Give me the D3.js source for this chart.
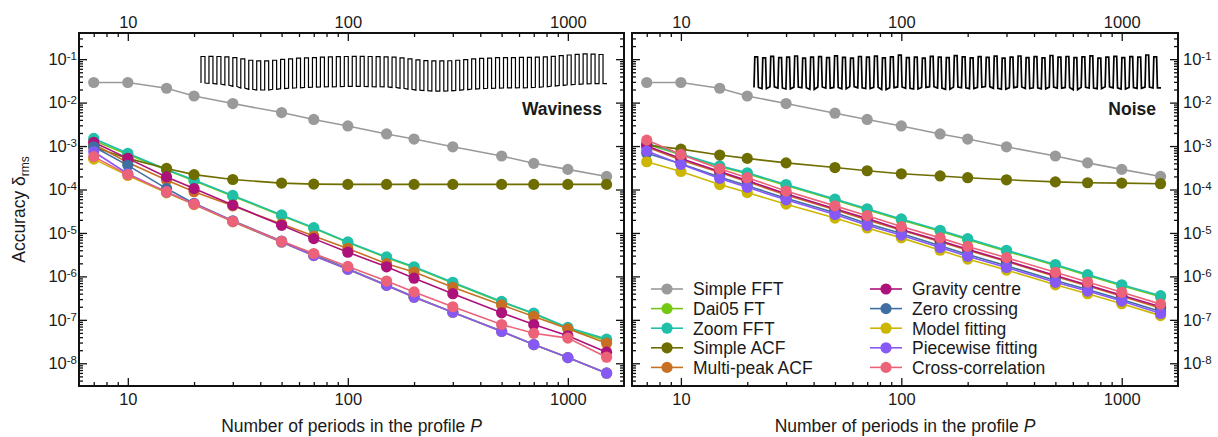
<!DOCTYPE html>
<html>
<head>
<meta charset="utf-8">
<script src="https://cdn.jsdelivr.net/npm/d3@7"></script>
<style>
body { margin: 0; background: #fff; }
svg text { font-family: "Liberation Sans", Arial, sans-serif; fill: #1a1a1a; }
</style>
</head>
<body>
<div id="vis"></div>
<script>
// number of periods in the profile
var periods = [7, 10, 15, 20, 30, 50, 70, 100, 150, 200, 300, 500, 700, 1000, 1500];

var methods = ["Simple FFT", "Dai05 FT", "Zoom FFT", "Simple ACF", "Multi-peak ACF",
    "Gravity centre", "Zero crossing", "Model fitting", "Piecewise fitting", "Cross-correlation"];
var colors = ["#9a9a9a", "#74c814", "#1fbfa8", "#6e6d00", "#c76f22",
    "#ad117a", "#3f6fa2", "#cdb600", "#8659f7", "#ec6279"];

// waviness panel
var wSimpleFFT = [0.029, 0.029, 0.0214, 0.0142, 0.0095, 0.0059, 0.0041, 0.0029, 0.0019, 0.00145, 0.00096, 0.00059, 0.0004, 0.00029, 0.0002];
var wDai05 = [1.35e-3, 6.4e-4, 2.8e-4, 1.6e-4, 7.0e-5, 2.5e-5, 1.28e-5, 6.0e-6, 2.7e-6, 1.6e-6, 7.0e-7, 2.55e-7, 1.38e-7, 6.4e-8, 3.3e-8];
var wZoomFFT = [1.5e-3, 6.8e-4, 2.9e-4, 1.66e-4, 7.3e-5, 2.6e-5, 1.32e-5, 6.2e-6, 2.8e-6, 1.66e-6, 7.3e-7, 2.65e-7, 1.42e-7, 6.7e-8, 3.6e-8];
var wSimpleACF = [9.5e-4, 5.2e-4, 3.05e-4, 2.2e-4, 1.7e-4, 1.4e-4, 1.33e-4, 1.31e-4, 1.31e-4, 1.31e-4, 1.31e-4, 1.31e-4, 1.31e-4, 1.31e-4, 1.31e-4];
var wMultiACF = [1.1e-3, 4.2e-4, 1.66e-4, 8.9e-5, 4.2e-5, 1.6e-5, 8.5e-6, 4.4e-6, 1.96e-6, 1.26e-6, 5.6e-7, 2.2e-7, 1.2e-7, 6.2e-8, 2.9e-8];
var wGravity = [1.22e-3, 5.2e-4, 1.95e-4, 1.05e-4, 4.4e-5, 1.5e-5, 7.4e-6, 3.6e-6, 1.66e-6, 9.1e-7, 4.0e-7, 1.45e-7, 7.8e-8, 4.3e-8, 1.8e-8];
var wZeroCross = [9.6e-4, 3.6e-4, 1.05e-4, 4.8e-5, 1.9e-5, 6.5e-6, 3.2e-6, 1.5e-6, 6.3e-7, 3.4e-7, 1.5e-7, 5.5e-8, 2.7e-8, 1.35e-8, 6.0e-9];
var wModelFit = [5.0e-4, 2.1e-4, 8.4e-5, 4.5e-5, 1.8e-5, 6.1e-6, 3.0e-6, 1.45e-6, 6.2e-7, 3.3e-7, 1.5e-7, 5.4e-8, 2.7e-8, 1.35e-8, 5.9e-9];
var wPiecewise = [7.4e-4, 2.3e-4, 8.7e-5, 4.7e-5, 1.85e-5, 6.2e-6, 3.0e-6, 1.45e-6, 6.2e-7, 3.3e-7, 1.5e-7, 5.4e-8, 2.7e-8, 1.35e-8, 5.9e-9];
var wCrossCorr = [5.7e-4, 2.2e-4, 8.9e-5, 4.6e-5, 1.86e-5, 6.4e-6, 3.35e-6, 1.7e-6, 7.8e-7, 4.4e-7, 2.0e-7, 7.8e-8, 4.9e-8, 3.8e-8, 1.38e-8];

// noise panel
var nSimpleFFT = [0.029, 0.029, 0.0214, 0.0142, 0.0095, 0.0057, 0.0041, 0.0029, 0.0019, 0.00145, 0.00096, 0.00059, 0.00041, 0.00029, 0.0002];
var nDai05 = [1.1e-3, 6.3e-4, 3.35e-4, 2.3e-4, 1.24e-4, 5.7e-5, 3.4e-5, 2.0e-5, 1.1e-5, 7.0e-6, 3.8e-6, 1.78e-6, 1.05e-6, 6.1e-7, 3.4e-7];
var nZoomFFT = [1.16e-3, 6.6e-4, 3.5e-4, 2.43e-4, 1.3e-4, 6.0e-5, 3.6e-5, 2.1e-5, 1.15e-5, 7.4e-6, 4.0e-6, 1.87e-6, 1.1e-6, 6.4e-7, 3.6e-7];
var nSimpleACF = [1.05e-3, 8.5e-4, 6.2e-4, 5.2e-4, 4.1e-4, 3.2e-4, 2.7e-4, 2.3e-4, 2.05e-4, 1.87e-4, 1.67e-4, 1.5e-4, 1.43e-4, 1.4e-4, 1.36e-4];
var nMultiACF = [9.5e-4, 4.8e-4, 2.45e-4, 1.5e-4, 7.5e-5, 3.4e-5, 2.0e-5, 1.15e-5, 6.3e-6, 4.0e-6, 2.2e-6, 1.0e-6, 6.0e-7, 3.5e-7, 1.85e-7];
var nGravity = [1.0e-3, 5.2e-4, 2.6e-4, 1.6e-4, 8.0e-5, 3.6e-5, 2.15e-5, 1.2e-5, 6.6e-6, 4.2e-6, 2.3e-6, 1.05e-6, 6.3e-7, 3.7e-7, 2.0e-7];
var nZeroCross = [6.8e-4, 3.9e-4, 1.95e-4, 1.22e-4, 6.3e-5, 2.9e-5, 1.65e-5, 9.7e-6, 5.1e-6, 3.2e-6, 1.75e-6, 8.0e-7, 5.0e-7, 2.95e-7, 1.55e-7];
var nModelFit = [4.35e-4, 2.6e-4, 1.3e-4, 8.5e-5, 4.6e-5, 2.2e-5, 1.3e-5, 7.7e-6, 4.0e-6, 2.5e-6, 1.4e-6, 6.4e-7, 4.0e-7, 2.35e-7, 1.25e-7];
var nPiecewise = [7.7e-4, 3.8e-4, 1.8e-4, 1.12e-4, 5.8e-5, 2.66e-5, 1.5e-5, 8.9e-6, 4.6e-6, 2.9e-6, 1.6e-6, 7.3e-7, 4.6e-7, 2.7e-7, 1.4e-7];
var nCrossCorr = [1.37e-3, 6.4e-4, 3.0e-4, 1.87e-4, 9.2e-5, 4.2e-5, 2.5e-5, 1.4e-5, 7.7e-6, 4.9e-6, 2.7e-6, 1.24e-6, 7.4e-7, 4.3e-7, 2.3e-7];

// example profiles shown at the top of each panel (per period: high and low level)
var wavinessHigh = [0.94, 0.95, 0.94, 0.92, 0.88, 0.80, 0.72, 0.68, 0.68, 0.72, 0.77, 0.80, 0.84,
    0.86, 0.88, 0.90, 0.92, 0.93, 0.94, 0.95, 0.95, 0.94, 0.93, 0.92, 0.90, 0.86, 0.80, 0.74,
    0.70, 0.68, 0.68, 0.69, 0.72, 0.76, 0.80, 0.83, 0.85, 0.87, 0.88, 0.88, 0.89, 0.89, 0.90,
    0.92, 0.95, 0.99, 1.03, 1.07, 1.09, 1.08, 1.06];
var wavinessLow = [-0.62, -0.64, -0.68, -0.74, -0.82, -0.92, -0.99, -1.03, -1.03, -0.99, -0.95, -0.92, -0.90,
    -0.88, -0.86, -0.85, -0.84, -0.83, -0.82, -0.82, -0.82, -0.83, -0.84, -0.85, -0.88, -0.93, -0.99, -1.04,
    -1.07, -1.09, -1.09, -1.08, -1.05, -1.01, -0.97, -0.95, -0.93, -0.92, -0.91, -0.91, -0.90, -0.89, -0.87,
    -0.84, -0.80, -0.76, -0.72, -0.69, -0.67, -0.66, -0.66];
var noiseHigh = [0.92, 0.86, 0.95, 0.88, 0.90, 0.97, 0.84, 0.91, 0.93, 0.87, 0.98, 0.89, 0.85, 0.94, 0.90,
    0.96, 0.86, 0.92, 1.02, 0.88, 0.91, 0.85, 0.95, 0.90, 0.87, 0.99, 0.92, 0.86, 0.93, 0.89, 0.96, 0.84,
    0.91, 0.97, 0.88, 0.93, 0.86, 1.00, 0.90, 0.94, 0.87, 0.92, 0.98, 0.85, 0.91, 0.95, 0.88, 0.93, 0.90,
    1.03, 0.92];
var noiseLow = [-0.88, -0.95, -0.84, -0.91, -0.97, -0.86, -0.90, -0.99, -0.85, -0.92, -0.88, -0.96, -0.83,
    -0.90, -0.94, -0.87, -1.00, -0.89, -0.85, -0.93, -0.97, -0.88, -0.84, -0.92, -0.99, -0.86, -0.90, -0.95,
    -0.87, -0.83, -0.93, -0.98, -0.89, -0.85, -0.94, -0.90, -0.96, -0.86, -0.92, -0.88, -1.01, -0.87, -0.91,
    -0.95, -0.84, -0.90, -0.97, -0.88, -0.93, -0.86, -0.91];

var decadesX = [10, 100, 1000];
var decadesY = [1e-1, 1e-2, 1e-3, 1e-4, 1e-5, 1e-6, 1e-7, 1e-8];

var width = 1218, height = 437;
var plotTop = 33, plotBottom = 386;

var svg = d3.select("#vis")
    .append("svg")
    .attr("width", width)
    .attr("height", height);

// minor tick values
var minorX = [];
[1, 10, 100].forEach(function (k) {
    for (var m = 2; m <= 9; m++) minorX.push(m * k);
});
minorX = minorX.filter(function (v) { return v > 6.2 && v < 1800; });
var minorY = [];
for (var e = -9; e <= -1; e++) {
    for (var m = 2; m <= 9; m++) minorY.push(m * Math.pow(10, e));
}
minorY = minorY.filter(function (v) { return v > 3.1e-9 && v < 0.39; });

function supLabels(g) {
    g.selectAll(".tick text").each(function (d) {
        var ex = Math.round(Math.log10(d));
        var t = d3.select(this).text(null);
        t.append("tspan").text("10");
        t.append("tspan").attr("dy", "-0.42em").attr("font-size", "11.5px").text(ex);
    });
}

function styleAxis(g) {
    g.select(".domain").remove();
    g.selectAll(".tick line").attr("stroke", "#111").attr("stroke-width", 1.3);
    g.selectAll(".tick text").attr("font-size", "16.5px").attr("fill", "#1a1a1a")
        .style("font-family", "'Liberation Sans', Arial, sans-serif");
}

function drawPanel(x0, x1, series, title, opts) {
    var x = d3.scaleLog().domain([6, 1800]).range([x0, x1]);
    var y = d3.scaleLog().domain([3e-9, 0.4]).range([plotBottom, plotTop]);
    var g = svg.append("g");

    // bottom axis
    g.append("g").attr("transform", "translate(0," + plotBottom + ")")
        .call(d3.axisBottom(x).tickValues(decadesX).tickFormat(d3.format("d")).tickSize(-8).tickPadding(7))
        .call(styleAxis);
    g.append("g").attr("transform", "translate(0," + plotBottom + ")")
        .call(d3.axisBottom(x).tickValues(minorX).tickFormat("").tickSize(-4))
        .call(styleAxis);
    // top axis
    g.append("g").attr("transform", "translate(0," + plotTop + ")")
        .call(d3.axisTop(x).tickValues(decadesX).tickFormat(d3.format("d")).tickSize(-8).tickPadding(5))
        .call(styleAxis);
    g.append("g").attr("transform", "translate(0," + plotTop + ")")
        .call(d3.axisTop(x).tickValues(minorX).tickFormat("").tickSize(-4))
        .call(styleAxis);
    // left axis
    var yl = d3.axisLeft(y).tickValues(decadesY).tickSize(-8).tickPadding(2);
    if (!opts.labelsLeft) yl.tickFormat("");
    var gl = g.append("g").attr("transform", "translate(" + x0 + ",0)").call(yl).call(styleAxis);
    if (opts.labelsLeft) gl.call(supLabels);
    g.append("g").attr("transform", "translate(" + x0 + ",0)")
        .call(d3.axisLeft(y).tickValues(minorY).tickFormat("").tickSize(-4))
        .call(styleAxis);
    // right axis
    var yr = d3.axisRight(y).tickValues(decadesY).tickSize(-8).tickPadding(5);
    if (!opts.labelsRight) yr.tickFormat("");
    var gr = g.append("g").attr("transform", "translate(" + x1 + ",0)").call(yr).call(styleAxis);
    if (opts.labelsRight) gr.call(supLabels);
    g.append("g").attr("transform", "translate(" + x1 + ",0)")
        .call(d3.axisRight(y).tickValues(minorY).tickFormat("").tickSize(-4))
        .call(styleAxis);

    // frame
    g.append("rect")
        .attr("x", x0).attr("y", plotTop)
        .attr("width", x1 - x0).attr("height", plotBottom - plotTop)
        .attr("fill", "none").attr("stroke", "#111").attr("stroke-width", 2);

    // series
    var line = d3.line()
        .x(function (d, i) { return x(periods[i]); })
        .y(function (d) { return y(d); });
    series.forEach(function (vals, k) {
        var s = g.append("g").attr("class", "series");
        s.append("path")
            .attr("d", line(vals))
            .attr("fill", "none")
            .attr("stroke", colors[k])
            .attr("stroke-width", 1.6);
        s.selectAll("circle")
            .data(vals)
            .enter()
            .append("circle")
            .attr("cx", function (d, i) { return x(periods[i]); })
            .attr("cy", function (d) { return y(d); })
            .attr("r", 5.6)
            .attr("fill", colors[k]);
    });

    // profile inset
    var ix = d3.scaleLinear().domain([0, opts.high.length]).range([x0 + 122, x1 - 17]);
    var iy = d3.scaleLinear().domain([-1, 1]).range([89.5, 55.5]);
    var pts = [];
    opts.high.forEach(function (h, i) {
        var lo = opts.low[i];
        if (opts.smooth) {
            pts.push([i, lo], [i + 0.1, h], [i + 0.45, h], [i + 0.55, lo]);
        } else {
            pts.push([i, lo], [i, h], [i + 0.5, h], [i + 0.5, lo]);
        }
    });
    pts.push([opts.high.length, opts.low[opts.low.length - 1]]);
    g.append("path")
        .attr("d", d3.line().x(function (d) { return ix(d[0]); }).y(function (d) { return iy(d[1]); })(pts))
        .attr("fill", "none")
        .attr("stroke", "#000")
        .attr("stroke-width", opts.smooth ? 1.7 : 1.2);

    // panel title
    g.append("text")
        .attr("x", x1 - 22).attr("y", 114.5)
        .attr("text-anchor", "end")
        .attr("font-size", "17.5px")
        .attr("font-weight", "bold")
        .text(title);

    // x title
    var xt = g.append("text")
        .attr("x", (x0 + x1) / 2).attr("y", 431.5)
        .attr("text-anchor", "middle")
        .attr("font-size", "17.5px");
    xt.append("tspan").text("Number of periods in the profile ");
    xt.append("tspan").attr("font-style", "italic").text("P");

    if (opts.legend) {
        methods.forEach(function (name, k) {
            var col = Math.floor(k / 5), row = k % 5;
            var mx = x0 + 35 + col * 219;
            var my = 289 + row * 19.6;
            var lg = g.append("g");
            lg.append("line")
                .attr("x1", mx - 16).attr("x2", mx + 16)
                .attr("y1", my).attr("y2", my)
                .attr("stroke", colors[k]).attr("stroke-width", 1.6);
            lg.append("circle").attr("cx", mx).attr("cy", my).attr("r", 5.6).attr("fill", colors[k]);
            lg.append("text")
                .attr("x", mx + 26).attr("y", my)
                .attr("dy", "0.36em")
                .attr("font-size", "17.5px")
                .text(name);
        });
    }
}

drawPanel(79, 624,
    [wSimpleFFT, wDai05, wZoomFFT, wSimpleACF, wMultiACF, wGravity, wZeroCross, wModelFit, wPiecewise, wCrossCorr],
    "Waviness",
    { labelsLeft: true, labelsRight: false, legend: false, high: wavinessHigh, low: wavinessLow, smooth: false });

drawPanel(632, 1178,
    [nSimpleFFT, nDai05, nZoomFFT, nSimpleACF, nMultiACF, nGravity, nZeroCross, nModelFit, nPiecewise, nCrossCorr],
    "Noise",
    { labelsLeft: false, labelsRight: true, legend: true, high: noiseHigh, low: noiseLow, smooth: true });

// y title
var yt = svg.append("text")
    .attr("transform", "translate(25," + (plotTop + plotBottom) / 2 + ") rotate(-90)")
    .attr("text-anchor", "middle")
    .attr("font-size", "17.5px");
yt.append("tspan").text("Accuracy δ");
yt.append("tspan").attr("font-size", "12px").attr("dy", "0.3em").text("rms");
</script>
</body>
</html>
